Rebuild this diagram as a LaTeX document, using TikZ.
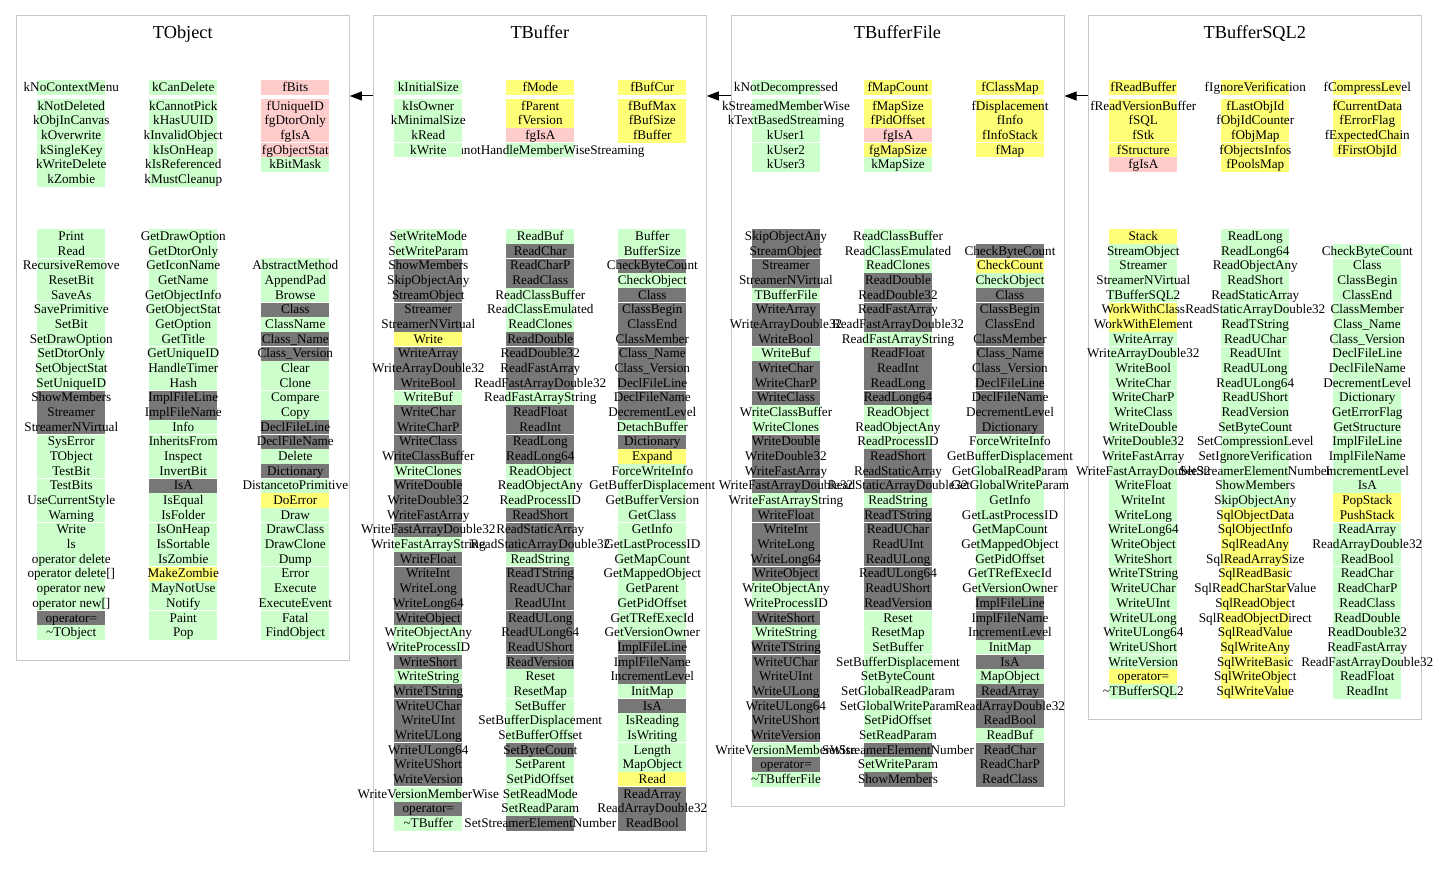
\documentclass[tikz,border=0pt]{standalone}
\usepackage{fontspec}
\setmainfont{Liberation Serif}
\usetikzlibrary{arrows.meta}
\definecolor{cG}{HTML}{CCFFCC}
\definecolor{cD}{HTML}{777777}
\definecolor{cY}{HTML}{FFFF77}
\definecolor{cP}{HTML}{FFCCCC}
\definecolor{boxgray}{HTML}{C8C8C8}
% attribute column: name, x centre, last row, list
\newcommand\acol[4]{%
  \foreach \c/\t [count=\i from 0] in {#4}{%
    \fill[c\c] ({#2-34},{80+\i*14.6+(\i>0)*4.4}) rectangle ++(68,14.6);
  }
  \ifnum#3>3\relax \draw[sep] ({#2-34},142.8) -- ++(68,0);\fi
  \foreach \c/\t [count=\i from 0] in {#4}{%
    \node[lbl] (#1-\i) at (#2,{91.3+\i*14.6+(\i>0)*4.4}) {\t};
  }
}
% method column: name, x centre, first row, last row, list
\newcommand\mcol[5]{%
  \foreach \c/\t [count=\i from #3] in {#5}{%
    \fill[c\c] ({#2-34},{229+\i*14.68}) rectangle ++(68,14.68);
  }
  \foreach \b in {2,5,...,#4}{%
    \ifnum\b>#3\relax \draw[sep] ({#2-34},{229+\b*14.68}) -- ++(68,0);\fi
  }
  \foreach \c/\t [count=\i from #3] in {#5}{%
    \node[lbl] (#1-\i) at (#2,{229+(\i+0.5)*14.68+4}) {\t};
  }
}
\begin{document}
\begin{tikzpicture}[x=1pt,y=-1pt,
  lbl/.style={inner sep=0pt,anchor=base,font=\fontsize{13.2}{15}\selectfont},
  ttl/.style={inner sep=0pt,anchor=base,font=\fontsize{18.3}{22}\selectfont},
  clusterbox/.style={draw=boxgray,line width=1pt,inner sep=0pt,minimum width=333pt},
  inherit/.style={draw=black,line width=1pt,-{Triangle[length=12pt,width=9pt]}},
  sep/.style={draw=white,line width=1pt}]
\useasboundingbox (0,0) rectangle (1437,877);
\fill[white] (0,0) rectangle (1437,877);

% ---------- class boxes and titles ----------
\node[clusterbox,minimum height=644pt] (tobject) at (182.8,338) {};
\node[clusterbox,minimum height=835pt] (tbuffer) at (539.8,433.5) {};
\node[clusterbox,minimum height=790pt] (tbufferfile) at (897.5,411) {};
\node[clusterbox,minimum height=703pt] (tbuffersql) at (1254.8,367.5) {};
\node[ttl] (tobject-title) at (182.8,39) {TObject};
\node[ttl] (tbuffer-title) at (539.8,39) {TBuffer};
\node[ttl] (tbufferfile-title) at (897.5,39) {TBufferFile};
\node[ttl] (tbuffersql-title) at (1254.8,39) {TBufferSQL2};

% ---------- TObject ----------
\acol{tobject-a3}{295.3}{5}{P/fBits, P/fUniqueID, P/fgDtorOnly, P/fgIsA, P/fgObjectStat, G/kBitMask}
\acol{tobject-a2}{183.3}{6}{G/kCanDelete, G/kCannotPick, G/kHasUUID, G/kInvalidObject, G/kIsOnHeap, G/kIsReferenced, G/kMustCleanup}
\acol{tobject-a1}{71.3}{6}{G/kNoContextMenu, G/kNotDeleted, G/kObjInCanvas, G/kOverwrite, G/kSingleKey, G/kWriteDelete, G/kZombie}
\mcol{tobject-m3}{295.3}{2}{27}{G/AbstractMethod, G/AppendPad, G/Browse, D/Class, G/ClassName, D/Class\_Name, D/Class\_Version, G/Clear, G/Clone, G/Compare, G/Copy, D/DeclFileLine, D/DeclFileName, G/Delete, D/Dictionary, G/DistancetoPrimitive, Y/DoError, G/Draw, G/DrawClass, G/DrawClone, G/Dump, G/Error, G/Execute, G/ExecuteEvent, G/Fatal, G/FindObject}
\mcol{tobject-m2}{183.3}{0}{27}{G/GetDrawOption, G/GetDtorOnly, G/GetIconName, G/GetName, G/GetObjectInfo, G/GetObjectStat, G/GetOption, G/GetTitle, G/GetUniqueID, G/HandleTimer, G/Hash, D/ImplFileLine, D/ImplFileName, G/Info, G/InheritsFrom, G/Inspect, G/InvertBit, D/IsA, G/IsEqual, G/IsFolder, G/IsOnHeap, G/IsSortable, G/IsZombie, Y/MakeZombie, G/MayNotUse, G/Notify, G/Paint, G/Pop}
\mcol{tobject-m1}{71.3}{0}{27}{G/Print, G/Read, G/RecursiveRemove, G/ResetBit, G/SaveAs, G/SavePrimitive, G/SetBit, G/SetDrawOption, G/SetDtorOnly, G/SetObjectStat, G/SetUniqueID, D/ShowMembers, D/Streamer, D/StreamerNVirtual, G/SysError, G/TObject, G/TestBit, G/TestBits, G/UseCurrentStyle, G/Warning, G/Write, G/ls, G/operator delete, G/operator delete[], G/operator new, G/operator new[], D/operator=, G/\textasciitilde TObject}

% ---------- TBuffer ----------
\acol{tbuffer-a3}{652.3}{3}{Y/fBufCur, Y/fBufMax, Y/fBufSize, Y/fBuffer}
\acol{tbuffer-a2}{540.3}{4}{Y/fMode, Y/fParent, Y/fVersion, P/fgIsA, G/kCannotHandleMemberWiseStreaming}
\acol{tbuffer-a1}{428.3}{4}{G/kInitialSize, G/kIsOwner, G/kMinimalSize, G/kRead, G/kWrite}
\mcol{tbuffer-m3}{652.3}{0}{40}{G/Buffer, G/BufferSize, D/CheckByteCount, G/CheckObject, D/Class, D/ClassBegin, D/ClassEnd, D/ClassMember, D/Class\_Name, D/Class\_Version, D/DeclFileLine, D/DeclFileName, D/DecrementLevel, G/DetachBuffer, D/Dictionary, Y/Expand, G/ForceWriteInfo, G/GetBufferDisplacement, G/GetBufferVersion, G/GetClass, G/GetInfo, G/GetLastProcessID, G/GetMapCount, G/GetMappedObject, G/GetParent, G/GetPidOffset, G/GetTRefExecId, G/GetVersionOwner, D/ImplFileLine, D/ImplFileName, D/IncrementLevel, G/InitMap, D/IsA, G/IsReading, G/IsWriting, G/Length, G/MapObject, Y/Read, D/ReadArray, D/ReadArrayDouble32, D/ReadBool}
\mcol{tbuffer-m2}{540.3}{0}{40}{G/ReadBuf, D/ReadChar, D/ReadCharP, D/ReadClass, G/ReadClassBuffer, G/ReadClassEmulated, G/ReadClones, D/ReadDouble, D/ReadDouble32, D/ReadFastArray, D/ReadFastArrayDouble32, G/ReadFastArrayString, D/ReadFloat, D/ReadInt, D/ReadLong, D/ReadLong64, G/ReadObject, G/ReadObjectAny, G/ReadProcessID, D/ReadShort, D/ReadStaticArray, D/ReadStaticArrayDouble32, G/ReadString, D/ReadTString, D/ReadUChar, D/ReadUInt, D/ReadULong, D/ReadULong64, D/ReadUShort, D/ReadVersion, G/Reset, G/ResetMap, G/SetBuffer, G/SetBufferDisplacement, G/SetBufferOffset, D/SetByteCount, G/SetParent, G/SetPidOffset, G/SetReadMode, G/SetReadParam, D/SetStreamerElementNumber}
\mcol{tbuffer-m1}{428.3}{0}{40}{G/SetWriteMode, G/SetWriteParam, D/ShowMembers, D/SkipObjectAny, D/StreamObject, D/Streamer, D/StreamerNVirtual, Y/Write, D/WriteArray, D/WriteArrayDouble32, D/WriteBool, G/WriteBuf, D/WriteChar, D/WriteCharP, D/WriteClass, D/WriteClassBuffer, G/WriteClones, D/WriteDouble, D/WriteDouble32, D/WriteFastArray, D/WriteFastArrayDouble32, G/WriteFastArrayString, D/WriteFloat, D/WriteInt, D/WriteLong, D/WriteLong64, D/WriteObject, G/WriteObjectAny, G/WriteProcessID, D/WriteShort, G/WriteString, D/WriteTString, D/WriteUChar, D/WriteUInt, D/WriteULong, D/WriteULong64, D/WriteUShort, D/WriteVersion, G/WriteVersionMemberWise, D/operator=, G/\textasciitilde TBuffer}

% ---------- TBufferFile ----------
\acol{tbufferfile-a3}{1010}{4}{Y/fClassMap, Y/fDisplacement, Y/fInfo, Y/fInfoStack, Y/fMap}
\acol{tbufferfile-a2}{898}{5}{Y/fMapCount, Y/fMapSize, Y/fPidOffset, P/fgIsA, Y/fgMapSize, G/kMapSize}
\acol{tbufferfile-a1}{786}{5}{G/kNotDecompressed, G/kStreamedMemberWise, G/kTextBasedStreaming, G/kUser1, G/kUser2, G/kUser3}
\mcol{tbufferfile-m3}{1010}{1}{37}{D/CheckByteCount, Y/CheckCount, G/CheckObject, D/Class, D/ClassBegin, D/ClassEnd, D/ClassMember, D/Class\_Name, D/Class\_Version, D/DeclFileLine, D/DeclFileName, D/DecrementLevel, D/Dictionary, G/ForceWriteInfo, G/GetBufferDisplacement, G/GetGlobalReadParam, G/GetGlobalWriteParam, G/GetInfo, G/GetLastProcessID, G/GetMapCount, G/GetMappedObject, G/GetPidOffset, G/GetTRefExecId, G/GetVersionOwner, D/ImplFileLine, D/ImplFileName, D/IncrementLevel, G/InitMap, D/IsA, G/MapObject, D/ReadArray, D/ReadArrayDouble32, D/ReadBool, G/ReadBuf, D/ReadChar, D/ReadCharP, D/ReadClass}
\mcol{tbufferfile-m2}{898}{0}{37}{G/ReadClassBuffer, G/ReadClassEmulated, G/ReadClones, D/ReadDouble, D/ReadDouble32, D/ReadFastArray, D/ReadFastArrayDouble32, G/ReadFastArrayString, D/ReadFloat, D/ReadInt, D/ReadLong, D/ReadLong64, G/ReadObject, G/ReadObjectAny, G/ReadProcessID, D/ReadShort, D/ReadStaticArray, D/ReadStaticArrayDouble32, G/ReadString, D/ReadTString, D/ReadUChar, D/ReadUInt, D/ReadULong, D/ReadULong64, D/ReadUShort, D/ReadVersion, G/Reset, G/ResetMap, G/SetBuffer, G/SetBufferDisplacement, G/SetByteCount, G/SetGlobalReadParam, G/SetGlobalWriteParam, G/SetPidOffset, G/SetReadParam, D/SetStreamerElementNumber, G/SetWriteParam, D/ShowMembers}
\mcol{tbufferfile-m1}{786}{0}{37}{D/SkipObjectAny, D/StreamObject, D/Streamer, D/StreamerNVirtual, G/TBufferFile, D/WriteArray, D/WriteArrayDouble32, D/WriteBool, G/WriteBuf, D/WriteChar, D/WriteCharP, D/WriteClass, G/WriteClassBuffer, G/WriteClones, D/WriteDouble, D/WriteDouble32, D/WriteFastArray, D/WriteFastArrayDouble32, G/WriteFastArrayString, D/WriteFloat, D/WriteInt, D/WriteLong, D/WriteLong64, D/WriteObject, G/WriteObjectAny, G/WriteProcessID, D/WriteShort, G/WriteString, D/WriteTString, D/WriteUChar, D/WriteUInt, D/WriteULong, D/WriteULong64, D/WriteUShort, D/WriteVersion, G/WriteVersionMemberWise, D/operator=, G/\textasciitilde TBufferFile}

% ---------- TBufferSQL2 ----------
\acol{tbuffersql-a3}{1367.3}{4}{Y/fCompressLevel, Y/fCurrentData, Y/fErrorFlag, Y/fExpectedChain, Y/fFirstObjId}
\acol{tbuffersql-a2}{1255.3}{5}{Y/fIgnoreVerification, Y/fLastObjId, Y/fObjIdCounter, Y/fObjMap, Y/fObjectsInfos, Y/fPoolsMap}
\acol{tbuffersql-a1}{1143.3}{5}{Y/fReadBuffer, Y/fReadVersionBuffer, Y/fSQL, Y/fStk, Y/fStructure, P/fgIsA}
\mcol{tbuffersql-m3}{1367.3}{1}{31}{G/CheckByteCount, G/Class, G/ClassBegin, G/ClassEnd, G/ClassMember, G/Class\_Name, G/Class\_Version, G/DeclFileLine, G/DeclFileName, G/DecrementLevel, G/Dictionary, G/GetErrorFlag, G/GetStructure, G/ImplFileLine, G/ImplFileName, G/IncrementLevel, G/IsA, Y/PopStack, Y/PushStack, G/ReadArray, G/ReadArrayDouble32, G/ReadBool, G/ReadChar, G/ReadCharP, G/ReadClass, G/ReadDouble, G/ReadDouble32, G/ReadFastArray, G/ReadFastArrayDouble32, G/ReadFloat, G/ReadInt}
\mcol{tbuffersql-m2}{1255.3}{0}{31}{G/ReadLong, G/ReadLong64, G/ReadObjectAny, G/ReadShort, G/ReadStaticArray, G/ReadStaticArrayDouble32, G/ReadTString, G/ReadUChar, G/ReadUInt, G/ReadULong, G/ReadULong64, G/ReadUShort, G/ReadVersion, G/SetByteCount, G/SetCompressionLevel, G/SetIgnoreVerification, G/SetStreamerElementNumber, G/ShowMembers, G/SkipObjectAny, Y/SqlObjectData, Y/SqlObjectInfo, Y/SqlReadAny, Y/SqlReadArraySize, Y/SqlReadBasic, Y/SqlReadCharStarValue, Y/SqlReadObject, Y/SqlReadObjectDirect, Y/SqlReadValue, Y/SqlWriteAny, Y/SqlWriteBasic, Y/SqlWriteObject, Y/SqlWriteValue}
\mcol{tbuffersql-m1}{1143.3}{0}{31}{Y/Stack, G/StreamObject, G/Streamer, G/StreamerNVirtual, G/TBufferSQL2, Y/WorkWithClass, Y/WorkWithElement, G/WriteArray, G/WriteArrayDouble32, G/WriteBool, G/WriteChar, G/WriteCharP, G/WriteClass, G/WriteDouble, G/WriteDouble32, G/WriteFastArray, G/WriteFastArrayDouble32, G/WriteFloat, G/WriteInt, G/WriteLong, G/WriteLong64, G/WriteObject, G/WriteShort, G/WriteTString, G/WriteUChar, G/WriteUInt, G/WriteULong, G/WriteULong64, G/WriteUShort, G/WriteVersion, Y/operator=, G/\textasciitilde TBufferSQL2}

% ---------- inheritance arrows ----------
\coordinate (arrowy) at (0,96);
\draw[inherit] (tbuffer.west |- arrowy) -- (tobject.east |- arrowy);
\draw[inherit] (tbufferfile.west |- arrowy) -- (tbuffer.east |- arrowy);
\draw[inherit] (tbuffersql.west |- arrowy) -- (tbufferfile.east |- arrowy);
\end{tikzpicture}
\end{document}
